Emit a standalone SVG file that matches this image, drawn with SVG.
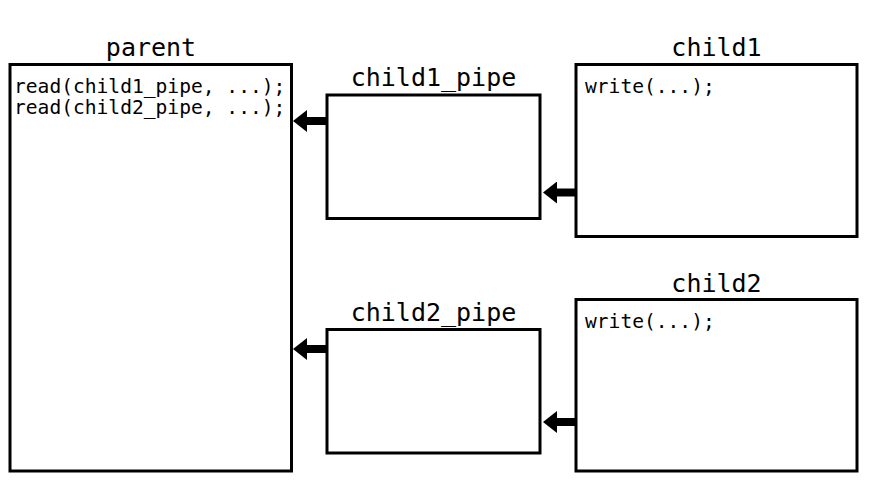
<svg xmlns="http://www.w3.org/2000/svg" width="870" height="493" viewBox="0 0 870 493">
<style>
.box{fill:#fff;stroke:#000;stroke-width:3}
.lbl{font-family:"DejaVu Sans Mono",monospace;font-size:25px;fill:#000;text-anchor:middle}
.code{font-family:"DejaVu Sans Mono",monospace;font-size:19.6px;fill:#000}
.conn{stroke:#000;stroke-width:8;fill:none;marker-end:url(#ah)}
</style>
<defs>
<marker id="ah" markerUnits="userSpaceOnUse" viewBox="0 0 14 22" refX="0" refY="11" markerWidth="14" markerHeight="22" orient="auto">
<path d="M0,0 L14,11 L0,22 Z" fill="#000"/>
</marker>
</defs>
<rect width="870" height="493" fill="#fff"/>
<g id="parent">
<rect class="box" x="10" y="64.5" width="281.5" height="406.5"/>
<text class="lbl" x="151" y="56">parent</text>
<text class="code" x="14" y="93">read(child1_pipe, ...);</text>
<text class="code" x="14" y="113.5">read(child2_pipe, ...);</text>
</g>
<g id="child1_pipe">
<rect class="box" x="327" y="95" width="213" height="123.5"/>
<text class="lbl" x="433.5" y="86">child1_pipe</text>
</g>
<g id="child2_pipe">
<rect class="box" x="327" y="329.5" width="213" height="123.5"/>
<text class="lbl" x="433.5" y="321">child2_pipe</text>
</g>
<g id="child1">
<rect class="box" x="576" y="64.5" width="281" height="172"/>
<text class="lbl" x="716.5" y="56">child1</text>
<text class="code" x="585" y="93">write(...);</text>
</g>
<g id="child2">
<rect class="box" x="576" y="299.5" width="281" height="171.5"/>
<text class="lbl" x="716.5" y="291.5">child2</text>
<text class="code" x="585" y="328">write(...);</text>
</g>
<g id="connectors">
<line class="conn" x1="327" y1="121" x2="307" y2="121"/>
<line class="conn" x1="327" y1="349" x2="307" y2="349"/>
<line class="conn" x1="576" y1="192.5" x2="557" y2="192.5"/>
<line class="conn" x1="576" y1="422" x2="557" y2="422"/>
</g>
</svg>
